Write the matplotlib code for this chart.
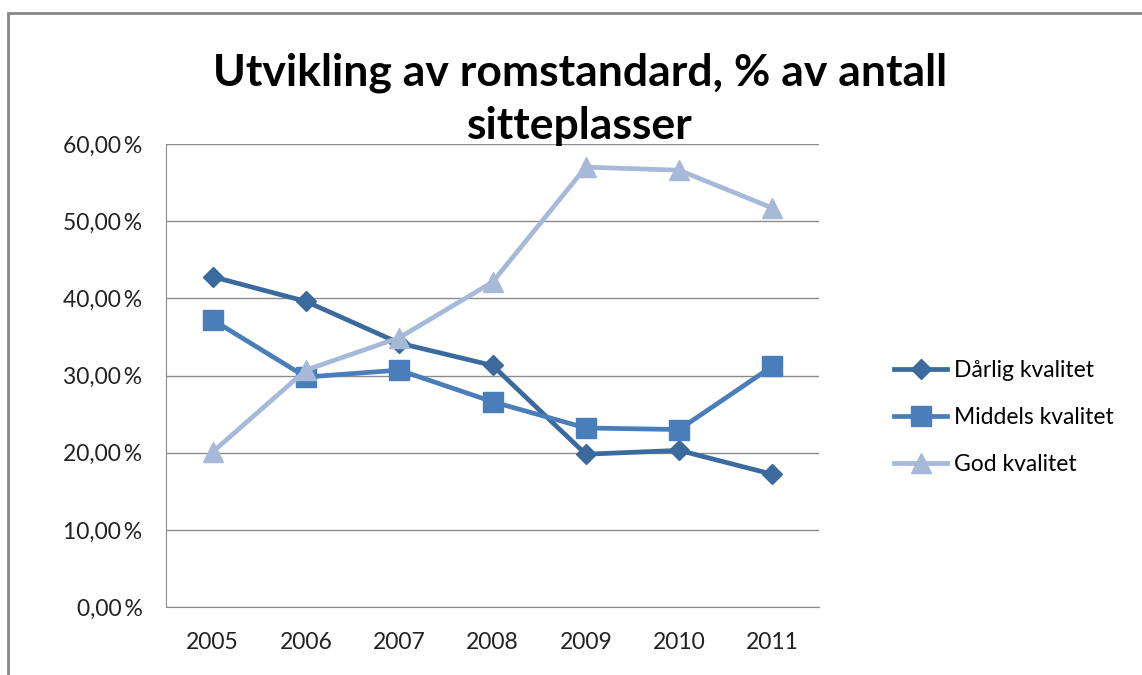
import matplotlib.pyplot as plt
from matplotlib.patches import Rectangle
from matplotlib.ticker import FuncFormatter

years = ['2005', '2006', '2007', '2008', '2009', '2010', '2011']
darlig = [42.8, 39.6, 34.2, 31.3, 19.8, 20.3, 17.2]
middels = [37.2, 29.8, 30.7, 26.6, 23.2, 23.0, 31.2]
god = [20.1, 30.7, 34.9, 42.1, 57.0, 56.6, 51.7]

plt.rcParams['font.family'] = ['Lato', 'DejaVu Sans']

fig = plt.figure(figsize=(11.42, 6.75), dpi=100)
# outer chart frame
fig.patches.append(Rectangle((8 / 1142, -0.05), 1.1, 1 - 13 / 675 + 0.05,
                             transform=fig.transFigure, fill=False,
                             edgecolor='#888888', linewidth=2))

ax = fig.add_axes([0.1454, 0.1007, 0.5718, 0.686])
x = range(len(years))
ax.plot(x, darlig, color='#3B6A9E', lw=3.4, marker='D', ms=10, label='Dårlig kvalitet')
ax.plot(x, middels, color='#4A7EBB', lw=3.4, marker='s', ms=14, label='Middels kvalitet')
ax.plot(x, god, color='#A6B9D9', lw=3.4, marker='^', ms=15, label='God kvalitet')

ax.set_xlim(-0.5, 6.5)
ax.set_ylim(0, 60)
ax.set_xticks(list(x))
ax.set_xticklabels(years)
ax.set_yticks(range(0, 61, 10))
ax.yaxis.set_major_formatter(FuncFormatter(lambda v, p: f'{v:.2f}'.replace('.', ',') + '\u2009%'))
ax.grid(axis='y', color='#8c8c8c', lw=1)
ax.set_axisbelow(True)
for s in ['top', 'right']:
    ax.spines[s].set_visible(False)
for s in ['left', 'bottom']:
    ax.spines[s].set_color('#8c8c8c')
ax.tick_params(axis='x', length=0, labelsize=16.5, pad=18, colors='#222222')
ax.tick_params(axis='y', length=0, labelsize=16.5, pad=17, labelcolor='#222222')

fig.text(0.508, 0.853, 'Utvikling av romstandard, % av antall\nsitteplasser',
         ha='center', va='center', fontsize=32, fontweight='bold', linespacing=1.38)

fig.legend(loc='center left', bbox_to_anchor=(0.765, 0.381), frameon=False,
           fontsize=16.5, handlelength=2.3, handletextpad=0.3, labelspacing=1.13)

fig.savefig('out.png', dpi=100)
